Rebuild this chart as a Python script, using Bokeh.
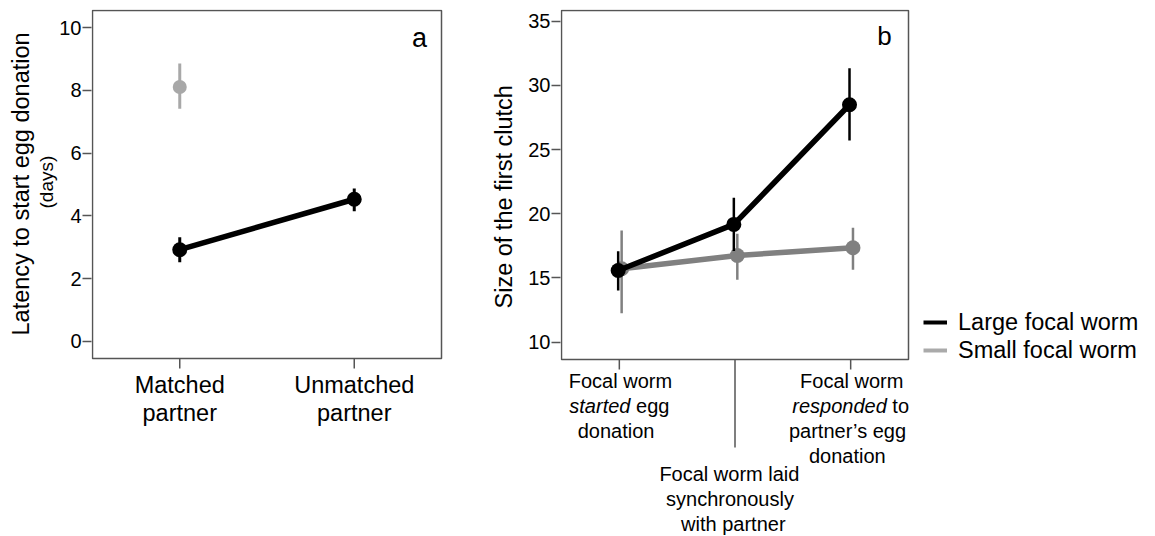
from bokeh.plotting import figure
from bokeh.layouts import row
from bokeh.models import (FixedTicker, Label, Legend, LegendItem, Range1d, Title,
                          ColumnDataSource)
from bokeh.embed import file_html
from bokeh.resources import INLINE

FONT = "Liberation Sans"
AX = "#555555"
H = 536
BASE_FIX = 0.37   # em; lifts Bokeh's "alphabetic" baseline onto the intended line

# ---------------- data: panel a ----------------
a_x = [1, 2]
a_cat_lines = [["Matched", "partner"], ["Unmatched", "partner"]]
a_large_mean = [2.92, 4.53]
a_large_lo = [2.52, 4.15]
a_large_hi = [3.32, 4.87]
a_small_x = [1]
a_small_mean = [8.11]
a_small_lo = [7.42]
a_small_hi = [8.86]
a_yticks = [0, 2, 4, 6, 8, 10]

# ---------------- data: panel b ----------------
b_x = [1, 2, 3]
b_large_mean = [15.58, 19.17, 28.49]
b_large_lo = [14.03, 17.10, 25.71]
b_large_hi = [17.09, 21.25, 31.34]
b_small_mean = [15.72, 16.75, 17.35]
b_small_lo = [12.26, 14.86, 15.64]
b_small_hi = [18.70, 18.44, 18.91]
b_yticks = [10, 15, 20, 25, 30, 35]
b_cat_lines = [
    [[("Focal worm", "normal")], [("started", "italic"), (" egg", "normal")], [("donation", "normal")]],
    [[("Focal worm laid", "normal")], [("synchronously", "normal")], [("with partner", "normal")]],
    [[("Focal worm", "normal")], [("responded", "italic"), (" to", "normal")],
     [("partner\u2019s egg", "normal")], [("donation", "normal")]],
]
series_names = ["Large focal worm", "Small focal worm"]

# Arial / Liberation Sans advance widths (1/1000 em) for width estimates
W = {" ": 278, "s": 500, "t": 278, "a": 556, "r": 333, "e": 556, "d": 556, "p": 556,
     "o": 556, "n": 556, "g": 556}


def tw(s, size):
    return sum(W.get(c, 556) for c in s) * size / 1000.0


def make_panel(width, box, frame_left, x_box, y_box, yticks):
    """box = (left, right, top, bottom) of the drawn box in canvas px.
    The frame reaches the canvas' right and bottom edges so that texts
    drawn below the box are not clipped."""
    bl, br, bt, bb = box
    ft = bt - 1

    def px2x(px):
        return x_box[0] + (px - bl) / (br - bl) * (x_box[1] - x_box[0])

    def py2y(py):
        return y_box[1] - (py - bt) / (bb - bt) * (y_box[1] - y_box[0])

    p = figure(width=width, height=H,
               x_range=Range1d(px2x(frame_left), px2x(width)),
               y_range=Range1d(py2y(H), py2y(ft)),
               x_axis_location=None, output_backend="svg", toolbar_location=None,
               min_border_left=frame_left, min_border_right=0,
               min_border_top=ft, min_border_bottom=0)
    p.grid.visible = False
    p.outline_line_color = None
    p.background_fill_color = "white"
    p.border_fill_color = "white"
    ax = p.yaxis[0]
    ax.ticker = FixedTicker(ticks=yticks)
    ax.axis_line_color = None
    ax.major_tick_line_color = AX
    ax.major_tick_line_width = 1.5
    ax.major_tick_in = 0
    ax.major_tick_out = 9
    ax.minor_tick_line_color = None
    ax.major_label_text_font = FONT
    ax.major_label_text_font_size = "20px"
    ax.major_label_text_color = "black"
    ax.major_label_standoff = 1
    p.quad(left=[x_box[0]], right=[x_box[1]], bottom=[y_box[0]], top=[y_box[1]],
           fill_color=None, line_color=AX, line_width=1.5)
    return p, px2x, py2y


def ytitle(p, text, size, start_py, valign="bottom", standoff=0):
    p.add_layout(Title(text=text, align="left", vertical_align=valign, offset=H - start_py,
                       standoff=standoff, text_font=FONT, text_font_size=size,
                       text_font_style="normal", text_color="black"), "left")


def label(p, x, y, text, size, align="center", x_offset=0, style="normal"):
    p.add_layout(Label(x=x, y=y, x_offset=x_offset, y_offset=BASE_FIX * size, text=text,
                       text_align=align, text_baseline="alphabetic", text_font=FONT,
                       text_font_style=style, text_font_size=f"{size}px", text_color="black"))


# ---------------- panel a ----------------
a_box_x = (0.5, 2.5)
a_box_y = (-0.55, 10.55)
p1, a_px2x, a_py2y = make_panel(470, (92, 441, 10, 358), 91, a_box_x, a_box_y, a_yticks)
ytitle(p1, "(days)", "19px", 208)
ytitle(p1, "Latency to start egg donation", "23.5px", 335)

p1.segment(x0=a_x, y0=[a_box_y[0]] * 2, x1=a_x, y1=[a_py2y(368)] * 2, line_color=AX, line_width=1.5)

srcA = ColumnDataSource(dict(x=a_x, m=a_large_mean, lo=a_large_lo, hi=a_large_hi))
srcAs = ColumnDataSource(dict(x=a_small_x, m=a_small_mean, lo=a_small_lo, hi=a_small_hi))
p1.segment(x0="x", y0="lo", x1="x", y1="hi", source=srcAs, line_color="#a8a8a8", line_width=3)
p1.scatter(x="x", y="m", source=srcAs, size=14, fill_color="#a8a8a8", line_color=None)
p1.segment(x0="x", y0="lo", x1="x", y1="hi", source=srcA, line_color="black", line_width=3)
p1.line(x="x", y="m", source=srcA, line_color="black", line_width=5.5)
p1.scatter(x="x", y="m", source=srcA, size=15, fill_color="black", line_color=None)

for cx, lines in zip(a_x, a_cat_lines):
    for li, t in enumerate(lines):
        label(p1, cx, a_py2y(393.3 + 28.3 * li), t, 23.5)

label(p1, a_px2x(419), a_py2y(47.7), "a", 27)

# ---------------- panel b ----------------
B_OFF = 470
b_box_x = (0.5, 3.5)
b_box_y = (8.65, 35.83)
p2, b_px2x, b_py2y = make_panel(1155 - B_OFF, (91, 438, 10, 359), 90, b_box_x, b_box_y, b_yticks)
ytitle(p2, "Size of the first clutch", "23.5px", 308, valign="top", standoff=13)

# x ticks (middle one is a long divider)
tick_end = [b_py2y(369), b_py2y(447), b_py2y(369)]
p2.segment(x0=b_x, y0=[b_box_y[0]] * 3, x1=b_x, y1=tick_end, line_color=AX, line_width=1.5)

GRAY_B = "#808080"
srcBs = ColumnDataSource(dict(x=[v + 0.02 for v in b_x], m=b_small_mean, lo=b_small_lo, hi=b_small_hi))
srcBl = ColumnDataSource(dict(x=[v - 0.01 for v in b_x], m=b_large_mean, lo=b_large_lo, hi=b_large_hi))
p2.segment(x0="x", y0="lo", x1="x", y1="hi", source=srcBs, line_color=GRAY_B, line_width=2.5)
p2.line(x="x", y="m", source=srcBs, line_color=GRAY_B, line_width=5.5)
p2.scatter(x="x", y="m", source=srcBs, size=15, fill_color=GRAY_B, line_color=None)
p2.segment(x0="x", y0="lo", x1="x", y1="hi", source=srcBl, line_color="black", line_width=2.5)
p2.line(x="x", y="m", source=srcBl, line_color="black", line_width=5.5)
p2.scatter(x="x", y="m", source=srcBl, size=15, fill_color="black", line_color=None)

# category labels with italic words
CAT_SIZE = 20
first_base = [387.7, 481, 387.7]
for ci, lines in enumerate(b_cat_lines):
    cx = b_x[ci]
    for li, parts in enumerate(lines):
        total = sum(tw(t, CAT_SIZE) for t, _ in parts)
        off = -total / 2.0
        for t, st in parts:
            lead = len(t) - len(t.lstrip(" "))
            label(p2, cx, b_py2y(first_base[ci] + 25 * li), t.strip(" "), CAT_SIZE,
                  align="left", x_offset=off + tw(" " * lead, CAT_SIZE), style=st)
            off += tw(t, CAT_SIZE)

label(p2, b_px2x(884 - B_OFF), b_py2y(45), "b", 26)

# legend
nan = float("nan")
r_large = p2.line(x=[nan], y=[nan], line_color="black", line_width=4)
r_small = p2.line(x=[nan], y=[nan], line_color="#aaaaaa", line_width=4)
legend = Legend(items=[LegendItem(label=series_names[0], renderers=[r_large]),
                       LegendItem(label=series_names[1], renderers=[r_small])],
                location=(363, 172), orientation="vertical",
                label_text_font=FONT, label_text_font_size="23.5px", label_text_color="black",
                glyph_width=24, glyph_height=28, label_standoff=11, spacing=0,
                padding=0, margin=0, border_line_color=None, background_fill_alpha=0)
p2.add_layout(legend)

layout = row(p1, p2, spacing=0)
open("out.html", "w").write(file_html(layout, INLINE))
